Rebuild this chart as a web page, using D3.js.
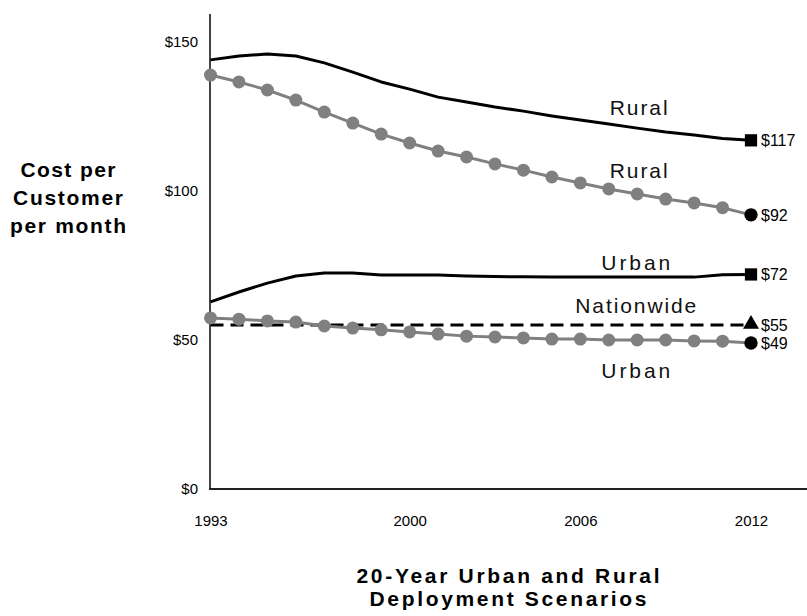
<!DOCTYPE html>
<html>
<head>
<meta charset="utf-8">
<script src="https://cdn.jsdelivr.net/npm/d3@7/dist/d3.min.js"></script>
<style>
  html, body { margin: 0; padding: 0; background: #fff; }
  svg { display: block; font-family: "Liberation Sans", Arial, sans-serif; }
</style>
</head>
<body>
<svg id="chart" width="807" height="616"></svg>
<script>
// Years on the horizontal axis
const years = [1993, 1994, 1995, 1996, 1997, 1998, 1999, 2000, 2001, 2002,
               2003, 2004, 2005, 2006, 2007, 2008, 2009, 2010, 2011, 2012];

// Monthly cost per customer, by scenario
const ruralBlack = [144.0, 145.3, 146.0, 145.3, 143.0, 139.9, 136.6, 134.2, 131.5, 129.9,
                    128.2, 126.8, 125.2, 123.8, 122.5, 121.1, 119.8, 118.8, 117.6, 117];
const ruralGray  = [138.9, 136.6, 133.9, 130.5, 126.5, 122.8, 119.1, 116.1, 113.4, 111.4,
                    109.1, 107.0, 104.7, 102.7, 100.7, 99.0, 97.3, 96.0, 94.4, 92];
const urbanBlack = [62.8, 66.1, 69.1, 71.5, 72.5, 72.5, 71.8, 71.8, 71.8, 71.5,
                    71.3, 71.2, 71.1, 71.1, 71.1, 71.1, 71.1, 71.1, 71.9, 72];
const urbanGray  = [57.4, 57.0, 56.4, 56.0, 54.7, 54.0, 53.4, 52.7, 52.0, 51.3,
                    51.0, 50.7, 50.3, 50.3, 50.0, 50.0, 50.0, 49.7, 49.6, 49];
const nationwide = [55, 55, 55, 55, 55, 55, 55, 55, 55, 55,
                    55, 55, 55, 55, 55, 55, 55, 55, 55, 55];

// Axis tick values
const yTicks = [0, 50, 100, 150];
const xTicks = [1993, 2000, 2006, 2012];

// Series name labels (placed relative to the 2008 value of their series)
const seriesLabels = [
  { text: "Rural",      series: ruralBlack, year: 2008.05, len: 58,  off: -13 },
  { text: "Rural",      series: ruralGray,  year: 2008.05, len: 58,  off: -16 },
  { text: "Urban",      series: urbanBlack, year: 2007.95, len: 69,  off: -7 },
  { text: "Nationwide", series: nationwide, year: 2007.95, len: 121, off: -12 },
  { text: "Urban",      series: urbanGray,  year: 2007.95, len: 69,  off: 38 }
];

const svg = d3.select("#chart");

const x = d3.scaleLinear().domain([1993, 2012]).range([210.5, 751]);
const y = d3.scaleLinear().domain([0, 150]).range([489, 42]);

// Axes
const gy = svg.append("g").attr("transform", "translate(210,0)")
  .call(d3.axisLeft(y).tickValues(yTicks).tickFormat(d => "$" + d).tickSize(0).tickPadding(12));
gy.attr("font-size", null).attr("font-family", null);
gy.select(".domain").remove();
gy.selectAll("text").style("font-size", "15px").attr("fill", "#000");

const gx = svg.append("g").attr("transform", "translate(0,489)")
  .call(d3.axisBottom(x).tickValues(xTicks).tickFormat(d3.format("d")).tickSize(0).tickPadding(26));
gx.attr("font-size", null).attr("font-family", null);
gx.select(".domain").remove();
gx.selectAll("text").style("font-size", "15px").attr("fill", "#000");

svg.append("line").attr("x1", 210).attr("x2", 210).attr("y1", 14).attr("y2", y(0))
  .attr("stroke", "#444").attr("stroke-width", 2);
svg.append("line").attr("x1", 209).attr("x2", 807).attr("y1", y(0)).attr("y2", y(0))
  .attr("stroke", "#222").attr("stroke-width", 2);

const line = d3.line().x((d, i) => x(years[i])).y(d => y(d));

// Black scenario lines
[ruralBlack, urbanBlack].forEach(s => {
  svg.append("path").datum(s).attr("d", line)
    .attr("fill", "none").attr("stroke", "#000").attr("stroke-width", 3)
    .attr("stroke-linejoin", "round");
});

// Nationwide dashed line
svg.append("path").datum(nationwide).attr("d", line)
  .attr("fill", "none").attr("stroke", "#000").attr("stroke-width", 3)
  .attr("stroke-dasharray", "13,7");

// Gray scenario lines with dots
[ruralGray, urbanGray].forEach(s => {
  svg.append("path").datum(s).attr("d", line)
    .attr("fill", "none").attr("stroke", "#808080").attr("stroke-width", 3);
  svg.append("g").selectAll("circle").data(s.slice(0, -1)).join("circle")
    .attr("cx", (d, i) => x(years[i])).attr("cy", d => y(d)).attr("r", 6.5)
    .attr("fill", "#808080");
});

// End markers
const last = years.length - 1;
const endMarkers = [
  { series: ruralBlack, type: d3.symbolSquare,   size: 150 },
  { series: ruralGray,  type: d3.symbolCircle,   size: 140 },
  { series: urbanBlack, type: d3.symbolSquare,   size: 150 },
  { series: nationwide, type: d3.symbolTriangle, size: 110 },
  { series: urbanGray,  type: d3.symbolCircle,   size: 140 }
];
svg.append("g").selectAll("path").data(endMarkers).join("path")
  .attr("d", d => d3.symbol().type(d.type).size(d.size)())
  .attr("transform", d => `translate(${x(years[last])},${y(d.series[last]) + (d.type === d3.symbolTriangle ? -1 : 0)})`)
  .attr("fill", "#000");

// End value labels
svg.append("g").selectAll("text").data(endMarkers).join("text")
  .attr("x", x(years[last]) + 10)
  .attr("y", d => y(d.series[last]))
  .attr("dy", "0.36em")
  .style("font-size", "16px")
  .attr("fill", "#000")
  .text(d => "$" + d.series[last]);

// Series name labels
svg.append("g").selectAll("text").data(seriesLabels).join("text")
  .attr("x", d => x(d.year))
  .attr("y", d => y(d.series[Math.round(d.year) - 1993]) + d.off)
  .attr("text-anchor", "middle")
  .style("font-size", "21px")
  .attr("fill", "#111")
  .attr("textLength", d => d.len)
  .attr("lengthAdjust", "spacing")
  .text(d => d.text);

// Vertical axis title
const yTitle = [["Cost per", 177, 95], ["Customer", 205, 110], ["per month", 233, 116]];
svg.append("g").selectAll("text").data(yTitle).join("text")
  .attr("x", 68).attr("y", d => d[1])
  .attr("text-anchor", "middle")
  .style("font-size", "21px").attr("font-weight", "bold").attr("fill", "#000")
  .attr("textLength", d => d[2]).attr("lengthAdjust", "spacing")
  .text(d => d[0]);

// Horizontal axis title
const xTitle = [["20-Year Urban and Rural", 583, 303], ["Deployment Scenarios", 606, 277]];
svg.append("g").selectAll("text").data(xTitle).join("text")
  .attr("x", 508).attr("y", d => d[1])
  .attr("text-anchor", "middle")
  .style("font-size", "21px").attr("font-weight", "bold").attr("fill", "#000")
  .attr("textLength", d => d[2]).attr("lengthAdjust", "spacing")
  .text(d => d[0]);
</script>
</body>
</html>
